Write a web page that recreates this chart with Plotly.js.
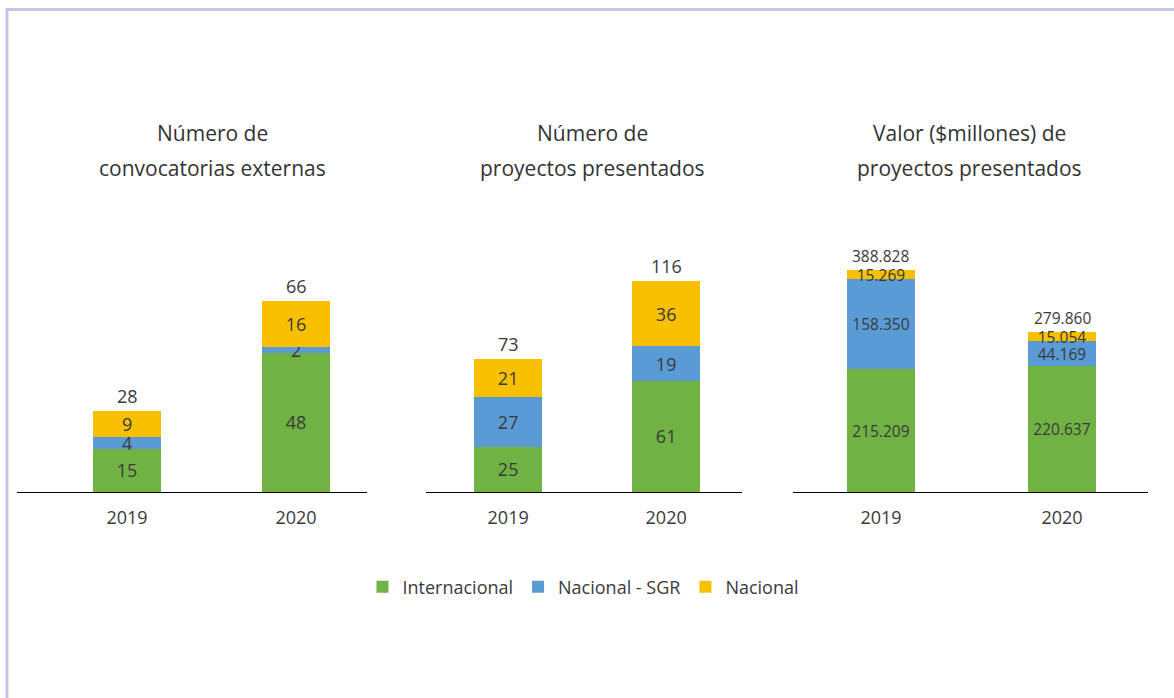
<!DOCTYPE html>
<html>
<head>
<meta charset="utf-8">
<script src="https://cdn.plot.ly/plotly-3.0.1.min.js"></script>
<style>html,body{margin:0;padding:0;background:#fff;}#chart{width:1174px;height:698px;}</style>
</head>
<body>
<div id="chart"></div>
<script>
// ---- data ----
var years = ["2019", "2020"];
var seriesNames = ["Internacional", "Nacional - SGR", "Nacional"];

var convInternacional = [15, 48];
var convNacionalSGR = [4, 2];
var convNacional = [9, 16];

var proyInternacional = [25, 61];
var proyNacionalSGR = [27, 19];
var proyNacional = [21, 36];

var valorInternacional = [215.209, 220.637];
var valorNacionalSGR = [158.350, 44.169];
var valorNacional = [15.269, 15.054];

var panelTitles = [
  ["Número de", "convocatorias externas"],
  ["Número de", "proyectos presentados"],
  ["Valor ($millones) de", "proyectos presentados"]
];

// ---- styles ----
var colors = ["#70b244", "#5b9bd5", "#f8c000"];
var txtColor = "#3a3a3a";
var fontFam = "Open Sans, sans-serif";

var panels = [
  {data: [convInternacional, convNacionalSGR, convNacional], fmt: "%{y}", dec: 0, width: 0.40, size: 18, xa: "x", ya: "y"},
  {data: [proyInternacional, proyNacionalSGR, proyNacional], fmt: "%{y}", dec: 0, width: 0.43, size: 18, xa: "x2", ya: "y2"},
  {data: [valorInternacional, valorNacionalSGR, valorNacional], fmt: "%{y:.3f}", dec: 3, width: 0.376, size: 15.5, xa: "x3", ya: "y3"}
];

var traces = [];
var annotations = [];
panels.forEach(function(p, pi) {
  p.data.forEach(function(vals, si) {
    traces.push({
      type: "bar",
      x: years,
      y: vals,
      name: seriesNames[si],
      legendgroup: seriesNames[si],
      showlegend: pi === 0,
      xaxis: p.xa,
      yaxis: p.ya,
      width: p.width,
      marker: {color: colors[si]},
      texttemplate: p.fmt,
      textposition: "inside",
      insidetextanchor: "middle",
      textangle: 0,
      constraintext: "none",
      textfont: {color: txtColor, size: p.size, family: fontFam},
      hoverinfo: "skip",
      cliponaxis: false
    });
  });
  years.forEach(function(yr, i) {
    var tot = 0;
    p.data.forEach(function(v) { tot += v[i]; });
    annotations.push({
      x: i, y: tot, xref: p.xa, yref: p.ya,
      text: tot.toFixed(p.dec), showarrow: false,
      xanchor: "center", yanchor: "bottom", yshift: 1,
      font: {color: txtColor, size: p.size, family: fontFam}
    });
  });
});

var titleX = [0.1814, 0.5043, 0.8262];
var titleLineY = [1 - 133/698, 1 - 168/698];
panelTitles.forEach(function(lines, pi) {
  lines.forEach(function(line, li) {
    annotations.push({
      xref: "paper", yref: "paper", x: titleX[pi], y: titleLineY[li],
      text: line, showarrow: false, xanchor: "center", yanchor: "middle",
      font: {color: "#333333", size: 21, family: fontFam}
    });
  });
});

function xaxis(domain, range) {
  return {
    domain: domain, range: range, type: "category",
    showline: true, linecolor: "#000", linewidth: 1,
    showgrid: false, zeroline: false, ticks: "",
    tickfont: {color: txtColor, size: 18, family: fontFam},
    ticklabelstandoff: 9, fixedrange: true
  };
}
function yaxis(range, anchor) {
  return {domain: [0.2951, 0.7135], range: range, visible: false, anchor: anchor, fixedrange: true};
}

var layout = {
  width: 1174, height: 698,
  margin: {l: 0, r: 0, t: 0, b: 0},
  paper_bgcolor: "#fff", plot_bgcolor: "#fff",
  barmode: "stack",
  showlegend: true,
  legend: {
    orientation: "h", x: 0.497, xanchor: "center", y: 1 - 587/698, yanchor: "middle",
    font: {color: txtColor, size: 18, family: fontFam}, traceorder: "normal", itemwidth: 30
  },
  xaxis: xaxis([17/1174, 367/1174], [-0.651, 1.42]),
  xaxis2: Object.assign(xaxis([426/1174, 742/1174], [-0.52, 1.48]), {anchor: "y2"}),
  xaxis3: Object.assign(xaxis([793/1174, 1148/1174], [-0.486, 1.475]), {anchor: "y3"}),
  yaxis: yaxis([0, 100.7], "x"),
  yaxis2: yaxis([0, 160.4], "x2"),
  yaxis3: yaxis([0, 511.8], "x3"),
  annotations: annotations,
  shapes: [
    {type: "line", xref: "paper", yref: "paper", x0: 6/1174, x1: 1, y0: 1 - 9.5/698, y1: 1 - 9.5/698, line: {color: "#c3c8e8", width: 3}},
    {type: "line", xref: "paper", yref: "paper", x0: 7/1174, x1: 7/1174, y0: 0, y1: 1 - 8/698, line: {color: "#c3c8e8", width: 3}}
  ]
};

Plotly.newPlot("chart", traces, layout, {displayModeBar: false, staticPlot: true});
</script>
</body>
</html>
